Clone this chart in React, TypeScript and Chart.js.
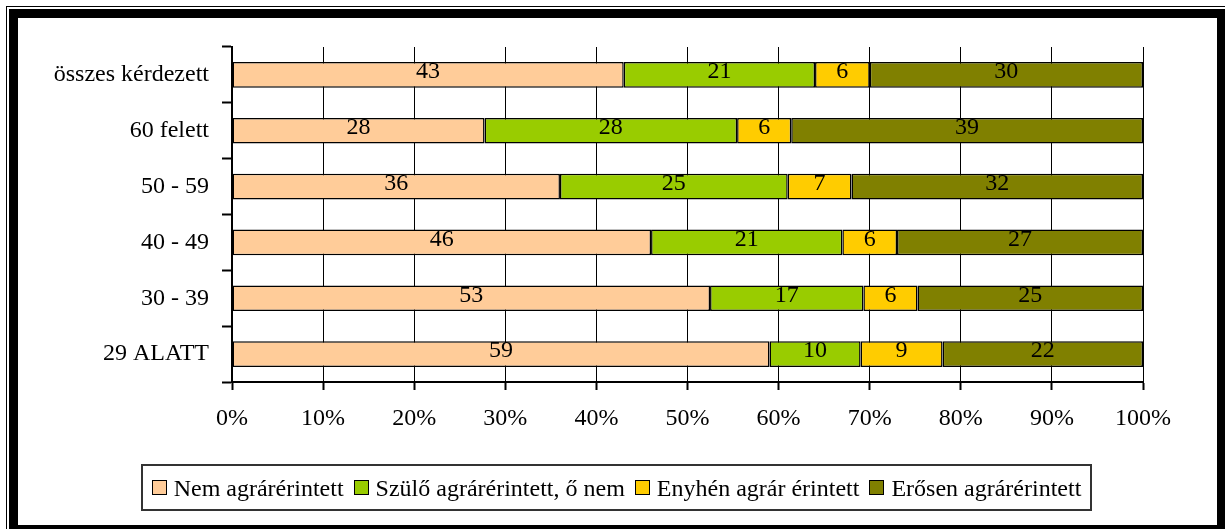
import React, { useEffect, useRef } from "react";
import { Chart, registerables } from "chart.js";

Chart.register(...registerables);

const categories = ["összes kérdezett", "60 felett", "50 - 59", "40 - 49", "30 - 39", "29 ALATT"];
const seriesNames = ["Nem agrárérintett", "Szülő agrárérintett, ő nem", "Enyhén agrár érintett", "Erősen agrárérintett"];
const seriesColors = ["#FFCC99", "#99CC00", "#FFCC00", "#808000"];
const nemAgrar = [43, 28, 36, 46, 53, 59];
const szuloAgrar = [21, 28, 25, 21, 17, 10];
const enyhenAgrar = [6, 6, 7, 6, 6, 9];
const erosenAgrar = [30, 39, 32, 27, 25, 22];
const seriesValues = [nemAgrar, szuloAgrar, enyhenAgrar, erosenAgrar];
const xTicks = [0, 10, 20, 30, 40, 50, 60, 70, 80, 90, 100];

const FONT = '"Liberation Serif", "Times New Roman", serif';
const FS = 24;

const rowTotals = categories.map((_, j) => seriesValues.reduce((s, arr) => s + arr[j], 0));

const labelPlugin = {
  id: "barValueLabels",
  afterDatasetsDraw(chart: any) {
    const ctx = chart.ctx;
    ctx.save();
    ctx.font = `${FS}px ${FONT}`;
    ctx.fillStyle = "#000";
    ctx.textAlign = "center";
    ctx.textBaseline = "middle";
    chart.data.datasets.forEach((ds: any, i: number) => {
      const meta = chart.getDatasetMeta(i);
      meta.data.forEach((bar: any, j: number) => {
        const p = bar.getProps(["x", "y", "base"], true);
        const cx = (p.x + p.base) / 2;
        ctx.fillText(String(seriesValues[i][j]), cx, p.y - 3);
      });
    });
    ctx.restore();
  },
};

export default function App() {
  const canvasRef = useRef<HTMLCanvasElement | null>(null);

  useEffect(() => {
    const canvas = canvasRef.current;
    if (!canvas) return;
    const chart = new Chart(canvas, {
      type: "bar",
      data: {
        labels: categories,
        datasets: seriesValues.map((vals, i) => ({
          label: seriesNames[i],
          data: vals.map((v, j) => (v / rowTotals[j]) * 100),
          backgroundColor: seriesColors[i],
          borderColor: "#000",
          borderWidth: 1.5,
          borderSkipped: false,
          barPercentage: 0.46,
          categoryPercentage: 1,
        })),
      },
      options: {
        indexAxis: "y",
        responsive: false,
        animation: false,
        devicePixelRatio: 1,
        layout: { padding: { top: 47, right: 82, bottom: 87, left: 0 } },
        plugins: { legend: { display: false }, tooltip: { enabled: false } },
        scales: {
          x: {
            stacked: true,
            min: 0,
            max: 100,
            afterBuildTicks: (scale: any) => {
              scale.ticks = xTicks.map((v) => ({ value: v }));
            },
            afterFit: (scale: any) => {
              scale.height = 60;
            },
            ticks: {
              color: "#000",
              font: { family: FONT, size: FS },
              padding: 14,
              maxRotation: 0,
              callback: (v: any) => `${v}%`,
            },
            grid: {
              color: "#000",
              lineWidth: 1,
              tickLength: 8,
              tickWidth: 2,
              tickColor: "#000",
            },
            border: { color: "#000", width: 2 },
          },
          y: {
            stacked: true,
            afterFit: (scale: any) => {
              scale.width = 232;
            },
            ticks: {
              color: "#000",
              font: { family: FONT, size: FS },
              padding: 13,
            },
            grid: {
              drawOnChartArea: false,
              color: "#000",
              tickLength: 10,
              tickWidth: 2,
              tickColor: "#000",
              offset: true,
            },
            border: { color: "#000", width: 2 },
          },
        },
      },
      plugins: [labelPlugin],
    } as any);
    return () => chart.destroy();
  }, []);

  return (
    <div
      style={{
        position: "fixed",
        left: 0,
        top: 0,
        width: 1225,
        height: 529,
        overflow: "hidden",
        background: "#fff",
      }}
    >
      <div
        style={{
          position: "absolute",
          left: 6,
          top: 6,
          width: 1300,
          height: 600,
          border: "1px solid #000",
        }}
      />
      <div
        style={{
          position: "absolute",
          left: 9,
          top: 9,
          width: 1217,
          height: 525,
          boxSizing: "border-box",
          border: "9px solid #000",
          background: "#fff",
        }}
      />
      <canvas
        ref={canvasRef}
        width={1225}
        height={529}
        style={{ position: "absolute", left: 0, top: 0, width: 1225, height: 529 }}
      />
      <div
        style={{
          position: "absolute",
          left: 141,
          top: 464,
          width: 951,
          height: 47,
          boxSizing: "border-box",
          border: "2px solid #333",
          display: "flex",
          alignItems: "center",
          justifyContent: "center",
          fontFamily: FONT,
          fontSize: FS,
          lineHeight: `${FS}px`,
          color: "#000",
          whiteSpace: "nowrap",
        }}
      >
        {seriesNames.map((name, i) => (
          <div key={name} style={{ display: "flex", alignItems: "center", marginRight: i < seriesNames.length - 1 ? 10 : 0 }}>
            <span
              style={{
                display: "inline-block",
                width: 15,
                height: 15,
                boxSizing: "border-box",
                border: "1.5px solid #000",
                background: seriesColors[i],
                marginRight: 7,
              }}
            />
            <span>{name}</span>
          </div>
        ))}
      </div>
    </div>
  );
}
